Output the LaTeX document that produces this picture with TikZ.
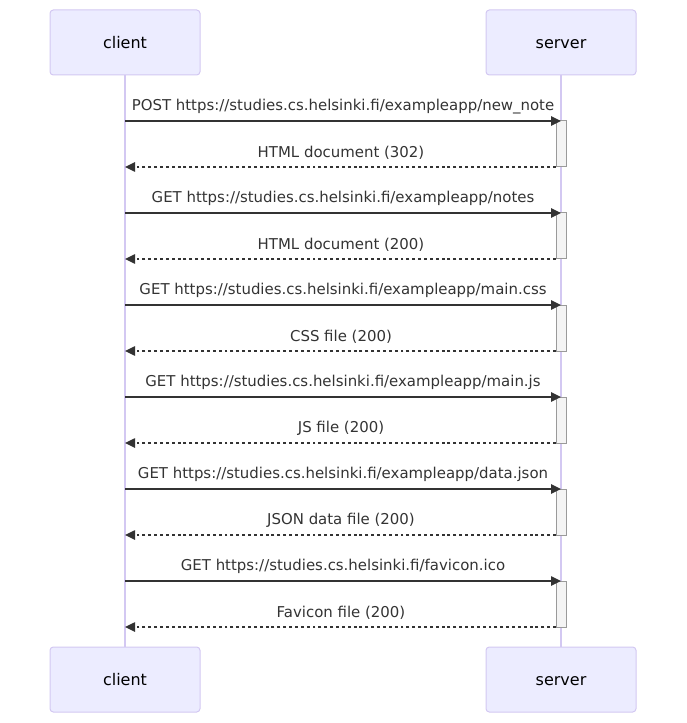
\documentclass[tikz,border=0pt]{standalone}
\usepackage{fontspec}
\setmainfont{DejaVu Sans}
\usetikzlibrary{arrows.meta}
\definecolor{actfill}{HTML}{ECECFF}
\definecolor{actdraw}{HTML}{D3C8F2}
\definecolor{lifeln}{HTML}{D3C8F2}
\definecolor{msgcol}{HTML}{333333}
\definecolor{txtcol}{HTML}{333333}
\definecolor{actvfill}{HTML}{F4F4F4}
\definecolor{actvdraw}{HTML}{9A9A9A}
\begin{document}
\begin{tikzpicture}[x=0.75pt,y=-0.75pt,
  actor/.style={draw=actdraw,fill=actfill,rounded corners=2.5pt,line width=0.75pt,minimum width=112.5pt,minimum height=48.75pt,inner sep=0pt,font=\fontsize{12}{14}\selectfont,text=black,text height=8.8pt,text depth=0.2pt},
  life/.style={draw=lifeln,line width=0.9pt},
  req/.style={draw=msgcol,line width=1.1pt,-{Triangle[length=7.5pt,width=7pt]}},
  resp/.style={draw=msgcol,line width=1.1pt,dash pattern=on 2.2pt off 2.2pt,-{Triangle[length=7.5pt,width=7pt]}},
  lbl/.style={font=\fontsize{11.2}{13}\selectfont,text=txtcol,inner sep=0pt},
  actv/.style={draw=actvdraw,fill=actvfill,line width=0.75pt}]
\useasboundingbox (0,0) rectangle (686,723);
\node[actor] (ct) at (125,42.5) {client};
\node[actor] (st) at (561,42.5) {server};
\node[actor] (cb) at (125,679.5) {client};
\node[actor] (sb) at (561,679.5) {server};
\draw[life] (ct.south) -- (cb.north);
\draw[life] (st.south) -- (sb.north);
\foreach \i/\req/\resp in {
  0/{POST https://studies.cs.helsinki.fi/exampleapp/new\_note}/{HTML document (302)},
  1/{GET https://studies.cs.helsinki.fi/exampleapp/notes}/{HTML document (200)},
  2/{GET https://studies.cs.helsinki.fi/exampleapp/main.css}/{CSS file (200)},
  3/{GET https://studies.cs.helsinki.fi/exampleapp/main.js}/{JS file (200)},
  4/{GET https://studies.cs.helsinki.fi/exampleapp/data.json}/{JSON data file (200)},
  5/{GET https://studies.cs.helsinki.fi/favicon.ico}/{Favicon file (200)}} {
  \pgfmathsetmacro{\ya}{121+92*\i}
  \pgfmathsetmacro{\yb}{167+92*\i}
  \coordinate (cA\i) at (125,\ya);
  \coordinate (sA\i) at (561,\ya);
  \coordinate (cB\i) at (125,\yb);
  \coordinate (sB\i) at (556,\yb);
  \draw[actv] (556,\ya) rectangle (566,\yb);
  \draw[req] (cA\i) -- (sA\i);
  \draw[resp] (sB\i) -- (cB\i);
  \node[lbl] (q\i) at (343,\ya-14.5) {\req};
  \node[lbl] (r\i) at (341,\yb-14.5) {\resp};
}
\end{tikzpicture}
\end{document}
